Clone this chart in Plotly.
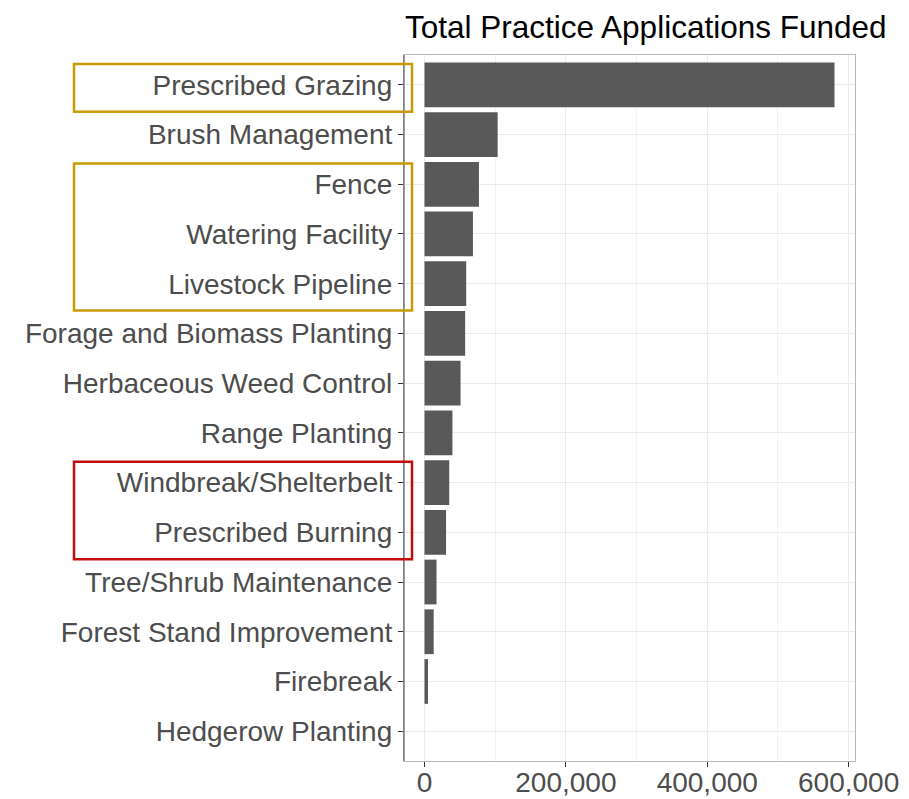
import plotly.graph_objects as go

# Conservation practices, listed top to bottom
practices = [
    "Prescribed Grazing",
    "Brush Management",
    "Fence",
    "Watering Facility",
    "Livestock Pipeline",
    "Forage and Biomass Planting",
    "Herbaceous Weed Control",
    "Range Planting",
    "Windbreak/Shelterbelt",
    "Prescribed Burning",
    "Tree/Shrub Maintenance",
    "Forest Stand Improvement",
    "Firebreak",
    "Hedgerow Planting",
]
applications = [
    580000, 103500, 77000, 68500, 59000, 57500, 51000,
    39500, 35000, 30500, 17000, 13000, 5000, 0,
]
x_ticks = [0, 200000, 400000, 600000]
x_minor = [100000, 300000, 500000]

# Highlight groups: (first practice, last practice, colour)
highlights = [
    ("Prescribed Grazing", "Prescribed Grazing", "#C99A06"),
    ("Fence", "Livestock Pipeline", "#C99A06"),
    ("Windbreak/Shelterbelt", "Prescribed Burning", "#C30A0A"),
]

W, H = 909, 799
ML, MR, MT, MB = 404, 54, 55, 38
plot_w = W - ML - MR

FONT = "Liberation Sans, Arial, Helvetica, sans-serif"

fig = go.Figure(
    go.Bar(
        x=applications,
        y=practices,
        orientation="h",
        width=0.9,
        marker=dict(color="#595959", line=dict(width=0)),
    )
)

xmax = max(applications)
pad = 0.05 * xmax

fig.update_layout(
    width=W,
    height=H,
    margin=dict(l=ML, r=MR, t=MT, b=MB),
    paper_bgcolor="white",
    plot_bgcolor="white",
    showlegend=False,
    font=dict(family=FONT, color="#4D4D4D"),
    bargap=0.1,
)

fig.update_xaxes(
    automargin=False,
    range=[-pad, xmax + pad],
    tickvals=x_ticks,
    tickformat=",d",
    tickfont=dict(size=28, color="#4D4D4D"),
    ticks="outside",
    ticklen=5,
    tickwidth=1.2,
    tickcolor="#333333",
    ticklabelstandoff=-9,
    showgrid=True,
    gridcolor="#EBEBEB",
    gridwidth=1.3,
    zeroline=False,
    showline=True,
    linecolor="#B8B8B8",
    linewidth=1.3,
    mirror=True,
    minor=dict(tickvals=x_minor, showgrid=True, gridcolor="#F2F2F2", gridwidth=1, ticklen=0),
)

fig.update_yaxes(
    automargin=False,
    type="category",
    categoryorder="array",
    categoryarray=practices,
    range=[len(practices) - 0.4, -0.6],
    tickfont=dict(size=28, color="#4D4D4D"),
    ticks="outside",
    ticklen=5,
    tickwidth=1.2,
    tickcolor="#333333",
    showgrid=True,
    gridcolor="#EBEBEB",
    gridwidth=1.3,
    showline=True,
    linecolor="#B8B8B8",
    linewidth=1.3,
    mirror=True,
)

# Darker left axis line over the panel border
fig.add_shape(
    type="line", xref="paper", yref="paper",
    x0=0, x1=0, y0=0, y1=1,
    line=dict(color="#666666", width=1.3),
)


def px_to_paper_x(px):
    return (px - ML) / plot_w


# Outline boxes around groups of labels
for first, last, colour in highlights:
    i0 = practices.index(first)
    i1 = practices.index(last)
    fig.add_shape(
        type="rect",
        xref="paper", yref="y",
        x0=px_to_paper_x(74), x1=px_to_paper_x(412),
        y0=i0 - 0.42, y1=i1 + 0.54,
        line=dict(color=colour, width=2.5),
        fillcolor="rgba(0,0,0,0)",
        layer="above",
    )

fig.update_layout(
    title=dict(
        text="Total Practice Applications Funded",
        font=dict(family=FONT, size=31.5, color="#000000"),
        xref="paper", x=0.0, xanchor="left",
        yref="container", y=1 - 27 / H, yanchor="middle",
        pad=dict(l=1),
    )
)

fig.write_html("out.html")
